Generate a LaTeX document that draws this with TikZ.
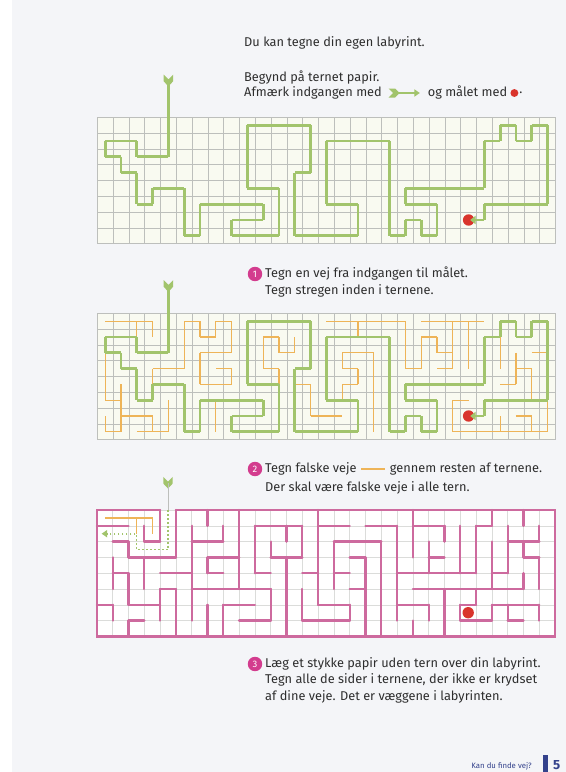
\documentclass[tikz,border=0pt]{standalone}
\usepackage{fontspec}
\setmainfont{Fira Sans}
\usetikzlibrary{arrows.meta, positioning}

\definecolor{pagebg}{HTML}{F4F5F8}
\definecolor{gridfill}{HTML}{F9FAF1}
\definecolor{gridline}{HTML}{BDBFBC}
\definecolor{pathgreen}{HTML}{A2C46C}
\definecolor{falseorange}{HTML}{EEB458}
\definecolor{wallpink}{HTML}{CD6A9E}
\definecolor{goalred}{HTML}{D9342C}
\definecolor{stepmagenta}{HTML}{D33C8E}
\definecolor{footblue}{HTML}{34428C}
\definecolor{inktext}{HTML}{2E2E2E}

% the way through the maze, cell by cell (x/y of cell centres)
\def\truelist{4/0/4/2, 4/2/2/2, 2/2/2/1, 2/1/0/1, 0/1/0/2, 0/2/1/2, 1/2/1/3, 1/3/2/3, 2/3/2/5, 2/5/3/5,
  3/5/3/4, 3/4/5/4, 5/4/5/7, 5/7/6/7, 6/7/6/5, 6/5/10/5, 10/5/10/6, 10/6/8/6, 8/6/8/7, 8/7/11/7,
  11/7/11/4, 11/4/9/4, 9/4/9/0, 9/0/13/0, 13/0/13/3, 13/3/12/3, 12/3/12/7, 12/7/16/7, 16/7/16/5,
  16/5/14/5, 14/5/14/1, 14/1/18/1, 18/1/18/7, 18/7/19/7, 19/7/19/6, 19/6/20/6, 20/6/20/7, 20/7/21/7,
  21/7/21/5, 21/5/19/5, 19/5/19/4, 19/4/24/4, 24/4/24/1, 24/1/25/1, 25/1/25/0, 25/0/26/0, 26/0/26/1,
  26/1/27/1, 27/1/27/0, 27/0/28/0, 28/0/28/5, 28/5/24/5, 24/5/24/6}
% false ways
\def\falselist{0/0/3/0, 3/0/3/1, 2/0/2/1,
  3/4/3/3, 3/3/5/3, 5/3/5/0, 5/0/6/0, 6/0/6/1, 6/1/7/1, 7/1/7/0, 7/0/8/0, 8/0/8/2, 8/2/6/2, 6/2/6/4,
  6/4/8/4, 8/4/8/3, 8/3/7/3,
  0/2/0/5, 0/5/1/5, 1/4/1/7, 1/7/0/7, 0/7/0/6, 1/6/3/6, 3/6/3/7, 2/7/4/7, 4/7/4/5,
  7/5/7/7,
  11/4/11/3, 11/3/10/3, 10/3/10/1, 10/1/11/1, 11/1/11/2, 11/2/12/2, 12/2/12/1,
  12/4/13/4, 13/4/13/6, 13/6/15/6,
  14/0/19/0, 16/0/16/1, 19/0/19/3, 19/3/20/3, 20/3/20/1, 20/1/21/1, 21/1/21/2, 21/2/22/2,
  20/0/24/0, 22/0/22/3, 22/3/21/3, 23/0/23/3,
  15/5/15/4, 15/4/16/4, 16/4/16/3, 16/3/15/3, 15/3/15/2, 15/2/17/2, 17/2/17/7,
  25/1/25/3, 27/5/27/3, 27/3/26/3, 26/2/26/4, 26/4/25/4, 27/2/28/2,
  22/5/23/5, 22/5/22/7, 22/7/28/7, 28/7/28/5, 25/6/25/7, 26/6/27/6, 27/6/27/7}

% remember which neighbouring cells a way joins
\newcommand\markrun[4]{%
  \ifnum#2=#4\relax
    \pgfmathtruncatemacro\runlo{min(#1,#3)}%
    \pgfmathtruncatemacro\runhi{max(#1,#3)-1}%
    \foreach \k in {\runlo,...,\runhi}{\expandafter\gdef\csname h-\k-#2\endcsname{}}%
  \else
    \pgfmathtruncatemacro\runlo{min(#2,#4)}%
    \pgfmathtruncatemacro\runhi{max(#2,#4)-1}%
    \foreach \k in {\runlo,...,\runhi}{\expandafter\gdef\csname v-#1-\k\endcsname{}}%
  \fi}

\tikzset{
  bodytext/.style={anchor=west, inner sep=0pt, text=inktext, font=\fontsize{11.5}{14}\selectfont},
  stepnum/.style={circle, fill=stepmagenta, text=white, inner sep=0pt, minimum size=13pt, font=\fontsize{8.5}{9}\selectfont},
  cellgrid/.style={draw=gridline, line width=0.5pt, step=0.5cm},
  truepath/.style={draw=pathgreen, line width=2.6pt},
  falsepath/.style={draw=falseorange, line width=1.1pt, line cap=square},
  wall/.style={draw=wallpink, line width=2.1pt, line cap=round},
  goal/.style={circle, fill=goalred, inner sep=0pt, minimum size=0.36cm},
  fletch/.pic={\fill[pathgreen] (-0.3,0) -- (0,0.3) -- (0.3,0) -- (0.3,0.42) -- (0,0.74) -- (-0.3,0.42) -- cycle;},
  solution/.pic={
    \node[goal] (goal) at (23,6) {};
    \pic at (4,#1) {fletch};
    \draw[truepath] (4,#1+0.4) -- (4,0);
    \foreach \xa/\ya/\xb/\yb in \truelist {\draw[truepath, line cap=square] (\xa,\ya) -- (\xb,\yb);}
    \draw[truepath, -{Triangle[length=5pt, width=7.5pt]}] (24,6) -- ([xshift=0.5mm]goal.center);
  }
}

\begin{document}
\begin{tikzpicture}[x=0.031646cm, y=-0.031646cm]
  \useasboundingbox (0,0) rectangle (566,772);
  \fill[pagebg] (0,0) rectangle (566,772);
  \fill[white] (0,0) rectangle (12,772);

  \foreach \xa/\ya/\xb/\yb in \truelist {\markrun{\xa}{\ya}{\xb}{\yb}}
  \markrun{24}{6}{23}{6}
  \foreach \xa/\ya/\xb/\yb in \falselist {\markrun{\xa}{\ya}{\xb}{\yb}}

  % intro
  \node[bodytext] (intro) at (244,43) {Du kan tegne din egen labyrint.};
  \node[bodytext] (begin) at (244,78) {Begynd på ternet papir.};
  \node[bodytext] (mark) at (244,93) {Afmærk indgangen med};
  \coordinate (tailA) at ([xshift=6pt]mark.east);
  \coordinate (headA) at ([xshift=28pt]tailA);
  \fill[pathgreen] (tailA) ++(0,-4.5) -- ++(4.5,4.5) -- ++(-4.5,4.5) -- ++(6.5,0) -- ++(4.5,-4.5) -- ++(-4.5,-4.5) -- cycle;
  \draw[pathgreen, line width=1.8pt, -{Triangle[length=5pt, width=6.5pt]}] ([xshift=2mm]tailA) -- (headA);
  \node[bodytext] (goaltext) at ([xshift=7pt]headA) {og målet med};
  \node[circle, fill=goalred, inner sep=0pt, minimum size=0.25cm, right=2.5pt of goaltext] (dotA) {};
  \node[bodytext, right=0.5pt of dotA] (stop) {.};

  % grid 1: the way
  \begin{scope}[shift={(105.2,125.2)}, x=0.5cm, y=-0.5cm]
    \fill[gridfill] (-0.5,-0.5) rectangle (28.5,7.5);
    \begin{scope}[shift={(-0.5,-0.5)}]
      \draw[cellgrid] (0,0) grid (29,8);
    \end{scope}
    \pic (first) {solution=-3.2};
  \end{scope}

  % step 1
  \node[stepnum] (one) at (255,274) {1};
  \node[bodytext] (oneA) at (265,274) {Tegn en vej fra indgangen til målet.};
  \node[bodytext] (oneB) at (265,291) {Tegn stregen inden i ternene.};

  % grid 2: false ways
  \begin{scope}[shift={(105.2,321.2)}, x=0.5cm, y=-0.5cm]
    \fill[gridfill] (-0.5,-0.5) rectangle (28.5,7.5);
    \begin{scope}[shift={(-0.5,-0.5)}]
      \draw[cellgrid] (0,0) grid (29,8);
    \end{scope}
    \foreach \xa/\ya/\xb/\yb in \falselist {\draw[falsepath] (\xa,\ya) -- (\xb,\yb);}
    \pic (second) {solution=-2.6};
  \end{scope}

  % step 2
  \node[stepnum] (two) at (255,469) {2};
  \node[bodytext] (twoA) at (265,469) {Tegn falske veje};
  \draw[falseorange, line width=1.1pt] ([xshift=4pt]twoA.east) coordinate (dashL) -- ++(24,0) coordinate (dashR);
  \node[bodytext] (twoC) at ([xshift=4pt]dashR) {gennem resten af ternene.};
  \node[bodytext] (twoB) at (265,488) {Der skal være falske veje i alle tern.};

  % grid 3: walls
  \begin{scope}[shift={(104.8,517.9)}, x=0.5cm, y=-0.5cm]
    \fill[white] (-0.5,-0.5) rectangle (28.5,7.5);
    \begin{scope}[shift={(-0.5,-0.5)}]
      \draw[cellgrid, draw=gridline!55] (0,0) grid (29,8);
      \foreach \cx in {0,...,27}{\foreach \ry in {0,...,7}{%
        \ifcsname h-\cx-\ry\endcsname\else\draw[wall] (\cx+1,\ry) -- (\cx+1,\ry+1);\fi}}
      \foreach \cx in {0,...,28}{\foreach \ry in {0,...,6}{%
        \ifcsname v-\cx-\ry\endcsname\else\draw[wall] (\cx,\ry+1) -- (\cx+1,\ry+1);\fi}}
      \draw[wall] (4,0) -- (0,0) -- (0,8) -- (29,8) -- (29,0) -- (5,0);
    \end{scope}
    \draw[falsepath] (0,0) -- (3,0) -- (3,1) (2,0) -- (2,1);
    \pic at (4,-2.6) {fletch};
    \draw[gridline, line width=0.6pt] (4,-2.2) -- (4,-0.5);
    \draw[pathgreen, line width=1.6pt, dotted, -{Triangle[length=5pt, width=6.5pt]}] (4,-0.5) -- (4,2) -- (2,2) -- (2,1) -- (-0.2,1);
    \node[goal] (goalC) at (23,6) {};
  \end{scope}

  % step 3
  \node[stepnum] (three) at (255,664) {3};
  \node[bodytext] (threeA) at (265,664) {Læg et stykke papir uden tern over din labyrint.};
  \node[bodytext] (threeB) at (265,680) {Tegn alle de sider i ternene, der ikke er krydset};
  \node[bodytext] (threeC) at (265,697) {af dine veje. Det er væggene i labyrinten.};

  % footer
  \node[anchor=east, inner sep=0pt, text=footblue, font=\fontsize{7}{8}\selectfont] (foot) at (532,766) {Kan du finde vej?};
  \fill[footblue] (543,755) rectangle (548,772);
  \node[anchor=west, inner sep=0pt, text=footblue, font=\bfseries\fontsize{12}{13}\selectfont] (page) at (553,765) {5};
\end{tikzpicture}
\end{document}
